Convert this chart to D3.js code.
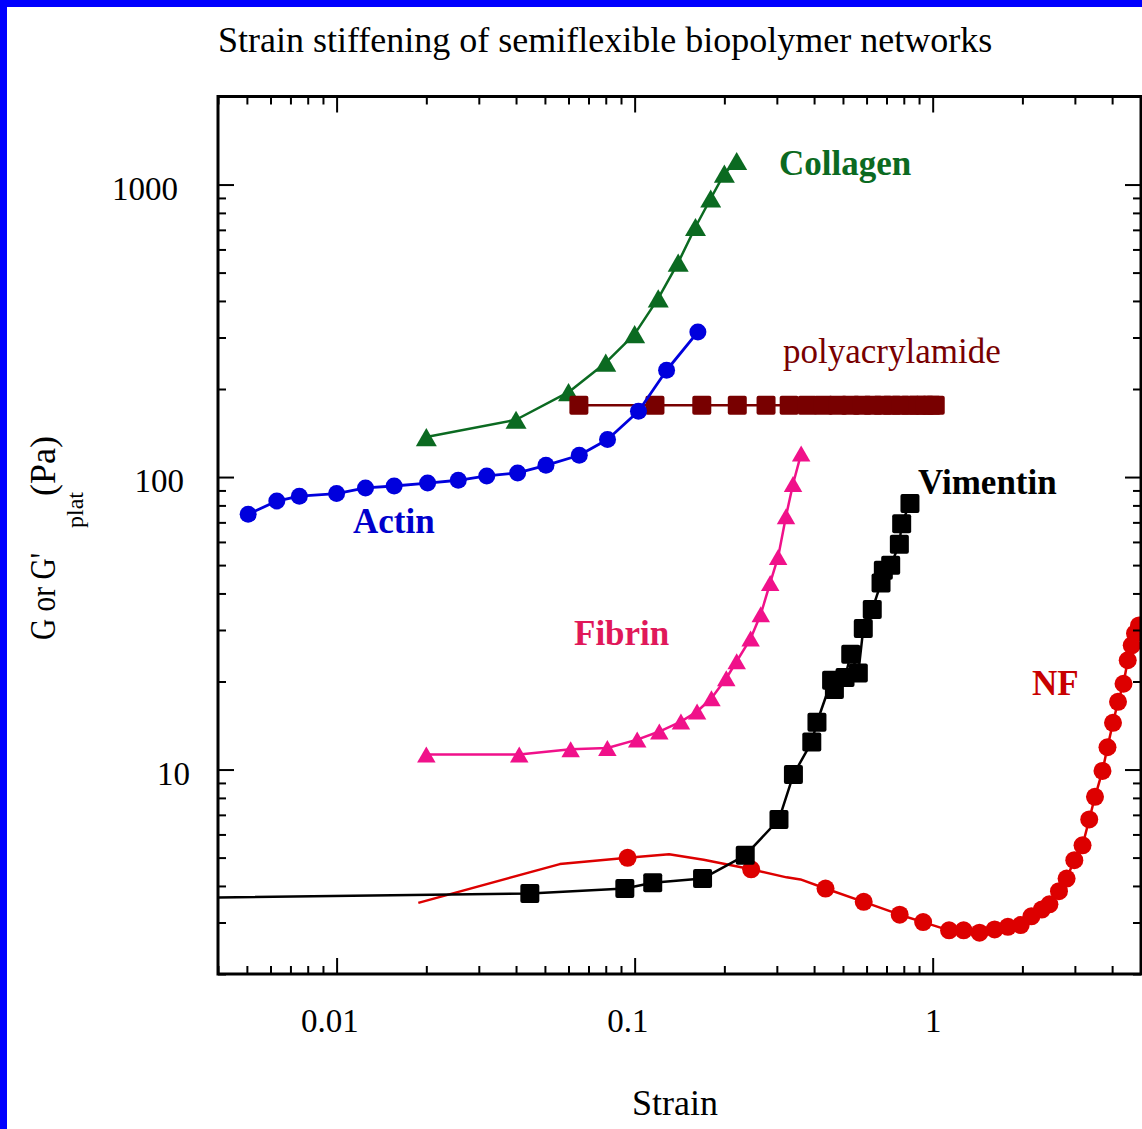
<!DOCTYPE html>
<html>
<head>
<meta charset="utf-8">
<script src="https://cdn.jsdelivr.net/npm/d3@7"></script>
<style>
body { margin: 0; background: #fff; }
svg { display: block; font-family: "Liberation Serif", "Times New Roman", serif; }
</style>
</head>
<body>
<svg id="chart" width="1142" height="1129"></svg>
<script>
// values: strain (x) and G or G'plat in Pa (y)
let collagenStrain = [0.02, 0.04, 0.06, 0.08, 0.10, 0.12, 0.14, 0.16, 0.18, 0.20, 0.22];
let collagenG = [137, 157, 195, 246, 308, 408, 541, 716, 896, 1090, 1204];

let actinStrain = [0.00505, 0.0063, 0.0075, 0.010, 0.0125, 0.0156, 0.0202, 0.0256, 0.0319, 0.0405, 0.0504, 0.0652, 0.0811, 0.103, 0.128, 0.163];
let actinG = [74.6, 82.8, 86.0, 87.8, 91.8, 93.2, 95.4, 97.5, 100.9, 103.3, 109.7, 118.7, 134.4, 167.9, 231.8, 313.4];

let polyStrain = [0.065, 0.117, 0.168, 0.221, 0.276, 0.33, 0.38, 0.43, 0.48, 0.53, 0.58, 0.63, 0.68, 0.73, 0.78, 0.84, 0.89, 0.94, 0.99, 1.02];
let polyG = [176, 176, 176, 176, 176, 176, 176, 176, 176, 176, 176, 176, 176, 176, 176, 176, 176, 176, 176, 176];

let fibrinStrain = [0.020, 0.041, 0.061, 0.081, 0.102, 0.121, 0.143, 0.162, 0.181, 0.203, 0.220, 0.245, 0.265, 0.285, 0.303, 0.322, 0.340, 0.362];
let fibrinG = [11.25, 11.25, 11.73, 11.85, 12.66, 13.49, 14.59, 15.79, 17.53, 20.52, 23.46, 28.05, 33.96, 43.45, 53.3, 73.5, 94.7, 120.3];

let vimentinStrain = [0.0445, 0.0927, 0.115, 0.169, 0.235, 0.305, 0.341, 0.393, 0.409, 0.458, 0.468, 0.508, 0.531, 0.563, 0.585, 0.627, 0.671, 0.683, 0.723, 0.773, 0.787, 0.839];
let vimentinG = [3.77, 3.92, 4.10, 4.24, 5.09, 6.75, 9.61, 12.43, 14.51, 20.2, 18.77, 20.63, 24.8, 21.4, 30.35, 35.24, 43.45, 48.0, 49.94, 58.9, 69.3, 81.2];
// line only, runs in from the left edge
let vimentinLeadStrain = [0.003];
let vimentinLeadG = [3.64];

let nfStrain = [0.0947, 0.246, 0.437, 0.587, 0.775, 0.929, 1.135, 1.27, 1.436, 1.614, 1.788, 1.974, 2.144, 2.323, 2.464, 2.653, 2.814, 2.987, 3.183, 3.352, 3.504, 3.713, 3.859, 4.027, 4.186, 4.368, 4.512, 4.654, 4.774, 4.924];
let nfG = [4.99, 4.56, 3.92, 3.53, 3.19, 3.01, 2.82, 2.82, 2.77, 2.84, 2.90, 2.94, 3.15, 3.32, 3.46, 3.84, 4.24, 4.90, 5.51, 6.75, 8.07, 9.89, 11.92, 14.45, 17.05, 19.65, 23.64, 26.6, 29.2, 31.1];
// line only points of the NF trace (no marker drawn)
let nfTraceStrain = [0.0188, 0.0561, 0.1305, 0.1704, 0.3234, 0.3601];
let nfTraceG = [3.50, 4.75, 5.13, 4.92, 4.28, 4.21];

let xMajor = [0.01, 0.1, 1];
let yMajor = [10, 100, 1000];

let svg = d3.select("svg");

// blue page border (only top and left are in the picture)
svg.append("rect").attr("x", 0).attr("y", 0).attr("width", 1142).attr("height", 7).attr("fill", "#0000ff");
svg.append("rect").attr("x", 0).attr("y", 0).attr("width", 7).attr("height", 1129).attr("fill", "#0000ff");

let plotL = 218, plotR = 1141, plotT = 96.5, plotB = 974;

let x = d3.scaleLog().domain([0.004, 5]).range([plotL, plotR]);
let y = d3.scaleLog().domain([2, 2000]).range([plotB, plotT]);

svg.append("defs").append("clipPath").attr("id", "plot-clip")
  .append("rect")
    .attr("x", plotL).attr("y", plotT)
    .attr("width", plotR - plotL).attr("height", plotB - plotT);

let line = d3.line()
    .x(function(d) { return x(d[0]); })
    .y(function(d) { return y(d[1]); });

// triangle whose bounding box is centred on the point
let triangleBox = {
  draw: function(context, size) {
    let s = Math.sqrt(size), h = s * 0.866;
    context.moveTo(0, -h / 2);
    context.lineTo(s / 2, h / 2);
    context.lineTo(-s / 2, h / 2);
    context.closePath();
  }
};
let squareRound = {
  draw: function(context, size) {
    let s = Math.sqrt(size) / 2, r = 2;
    context.moveTo(-s + r, -s);
    context.lineTo(s - r, -s);
    context.quadraticCurveTo(s, -s, s, -s + r);
    context.lineTo(s, s - r);
    context.quadraticCurveTo(s, s, s - r, s);
    context.lineTo(-s + r, s);
    context.quadraticCurveTo(-s, s, -s, s - r);
    context.lineTo(-s, -s + r);
    context.quadraticCurveTo(-s, -s, -s + r, -s);
    context.closePath();
  }
};

let plot = svg.append("g").attr("clip-path", "url(#plot-clip)");

function drawSeries(linePts, markerPts, color, lineWidth, shape, size) {
  let g = plot.append("g");
  g.append("path")
      .datum(linePts)
      .attr("d", line)
      .attr("fill", "none")
      .attr("stroke", color)
      .attr("stroke-width", lineWidth)
      .attr("stroke-linejoin", "round");
  g.selectAll("path.mark")
    .data(markerPts)
    .enter().append("path")
      .attr("class", "mark")
      .attr("transform", function(d) { return "translate(" + x(d[0]) + "," + y(d[1]) + ")"; })
      .attr("d", d3.symbol().type(shape).size(size))
      .attr("fill", color);
}

function byStrain(a, b) { return a[0] - b[0]; }

let nfPts = d3.zip(nfStrain, nfG);
let nfLine = nfPts.concat(d3.zip(nfTraceStrain, nfTraceG)).sort(byStrain);
drawSeries(nfLine, nfPts, "#dd0000", 2.5, d3.symbolCircle, Math.PI * 9 * 9);

let collagenPts = d3.zip(collagenStrain, collagenG);
drawSeries(collagenPts, collagenPts, "#0b6a21", 2.5, triangleBox, 21 * 21);

let polyPts = d3.zip(polyStrain, polyG);
drawSeries(polyPts, polyPts, "#780000", 2.5, squareRound, 19 * 19);

let actinPts = d3.zip(actinStrain, actinG);
drawSeries(actinPts, actinPts, "#0000dd", 2.8, d3.symbolCircle, Math.PI * 8.5 * 8.5);

let fibrinPts = d3.zip(fibrinStrain, fibrinG);
drawSeries(fibrinPts, fibrinPts, "#f0118a", 2.5, triangleBox, 18.5 * 18.5);

let vimPts = d3.zip(vimentinStrain, vimentinG);
let vimLine = d3.zip(vimentinLeadStrain, vimentinLeadG).concat(vimPts);
drawSeries(vimLine, vimPts, "#000000", 2.5, squareRound, 19 * 19);

// ticks on all four sides, pointing inward
let xMinor = x.ticks().filter(function(d) { return xMajor.indexOf(d) < 0; });
let yMinor = y.ticks().filter(function(d) { return yMajor.indexOf(d) < 0; });

function tickAxis(g, axis) {
  g.call(axis.tickFormat(""));
  g.select(".domain").remove();
  g.selectAll("line").attr("stroke", "#000").attr("stroke-width", 2);
}

[[xMajor, 16], [xMinor, 8]].forEach(function(t) {
  tickAxis(svg.append("g").attr("transform", "translate(0," + plotB + ")"),
    d3.axisBottom(x).tickValues(t[0]).tickSize(-t[1]));
  tickAxis(svg.append("g").attr("transform", "translate(0," + plotT + ")"),
    d3.axisTop(x).tickValues(t[0]).tickSize(-t[1]));
});
[[yMajor, 16], [yMinor, 8]].forEach(function(t) {
  tickAxis(svg.append("g").attr("transform", "translate(" + plotL + ",0)"),
    d3.axisLeft(y).tickValues(t[0]).tickSize(-t[1]));
  tickAxis(svg.append("g").attr("transform", "translate(" + plotR + ",0)"),
    d3.axisRight(y).tickValues(t[0]).tickSize(-t[1]));
});

// frame
svg.append("rect")
    .attr("x", plotL).attr("y", plotT)
    .attr("width", plotR - plotL).attr("height", plotB - plotT)
    .attr("fill", "none").attr("stroke", "#000").attr("stroke-width", 3);

// tick labels
let xLab = svg.append("g").attr("transform", "translate(0," + plotB + ")")
    .call(d3.axisBottom(x).tickValues(xMajor).tickSize(0).tickPadding(35).tickFormat(function(d) { return String(d); }));
xLab.select(".domain").remove();
xLab.selectAll("text")
    .attr("font-family", "Liberation Serif, serif")
    .attr("font-size", 33)
    .attr("fill", "#000")
    .attr("dx", function(d) { return String(d).length > 1 ? "-0.22em" : 0; });

let yLab = svg.append("g").attr("transform", "translate(" + plotL + ",0)")
    .call(d3.axisLeft(y).tickValues(yMajor).tickSize(0).tickFormat(function(d) { return String(d); }));
yLab.select(".domain").remove();
yLab.selectAll("text")
    .attr("font-family", "Liberation Serif, serif")
    .attr("font-size", 33)
    .attr("fill", "#000")
    .attr("x", function(d) { return -16 - 6 * String(d).length; })
    .attr("dy", "0.45em");

// titles
svg.append("text")
    .attr("x", 218).attr("y", 52)
    .attr("font-size", 36)
    .text("Strain stiffening of semiflexible biopolymer networks");

svg.append("text")
    .attr("x", 675).attr("y", 1115)
    .attr("text-anchor", "middle")
    .attr("font-size", 36)
    .text("Strain");

let yt = svg.append("g").attr("font-size", 36);
yt.append("text")
    .attr("transform", "translate(55,640) rotate(-90)")
    .attr("textLength", 87).attr("lengthAdjust", "spacingAndGlyphs")
    .text("G or G'");
yt.append("text")
    .attr("transform", "translate(83,528) rotate(-90)")
    .attr("font-size", 24)
    .text("plat");
yt.append("text")
    .attr("transform", "translate(55,496) rotate(-90)")
    .text("(Pa)");

// series names
let names = [
  {t: "Collagen", x: 779, y: 175, w: "bold", c: "#0b6a21"},
  {t: "polyacrylamide", x: 783, y: 363, w: "normal", c: "#780000"},
  {t: "Actin", x: 353, y: 533, w: "bold", c: "#0000cc"},
  {t: "Fibrin", x: 574, y: 645, w: "bold", c: "#e0185a"},
  {t: "Vimentin", x: 918, y: 494, w: "bold", c: "#000000"},
  {t: "NF", x: 1032, y: 695, w: "bold", c: "#c80000"}
];
svg.selectAll("text.name")
  .data(names)
  .enter().append("text")
    .attr("class", "name")
    .attr("x", function(d) { return d.x; })
    .attr("y", function(d) { return d.y; })
    .attr("font-size", 35)
    .attr("font-weight", function(d) { return d.w; })
    .attr("fill", function(d) { return d.c; })
    .text(function(d) { return d.t; });
</script>
</body>
</html>
